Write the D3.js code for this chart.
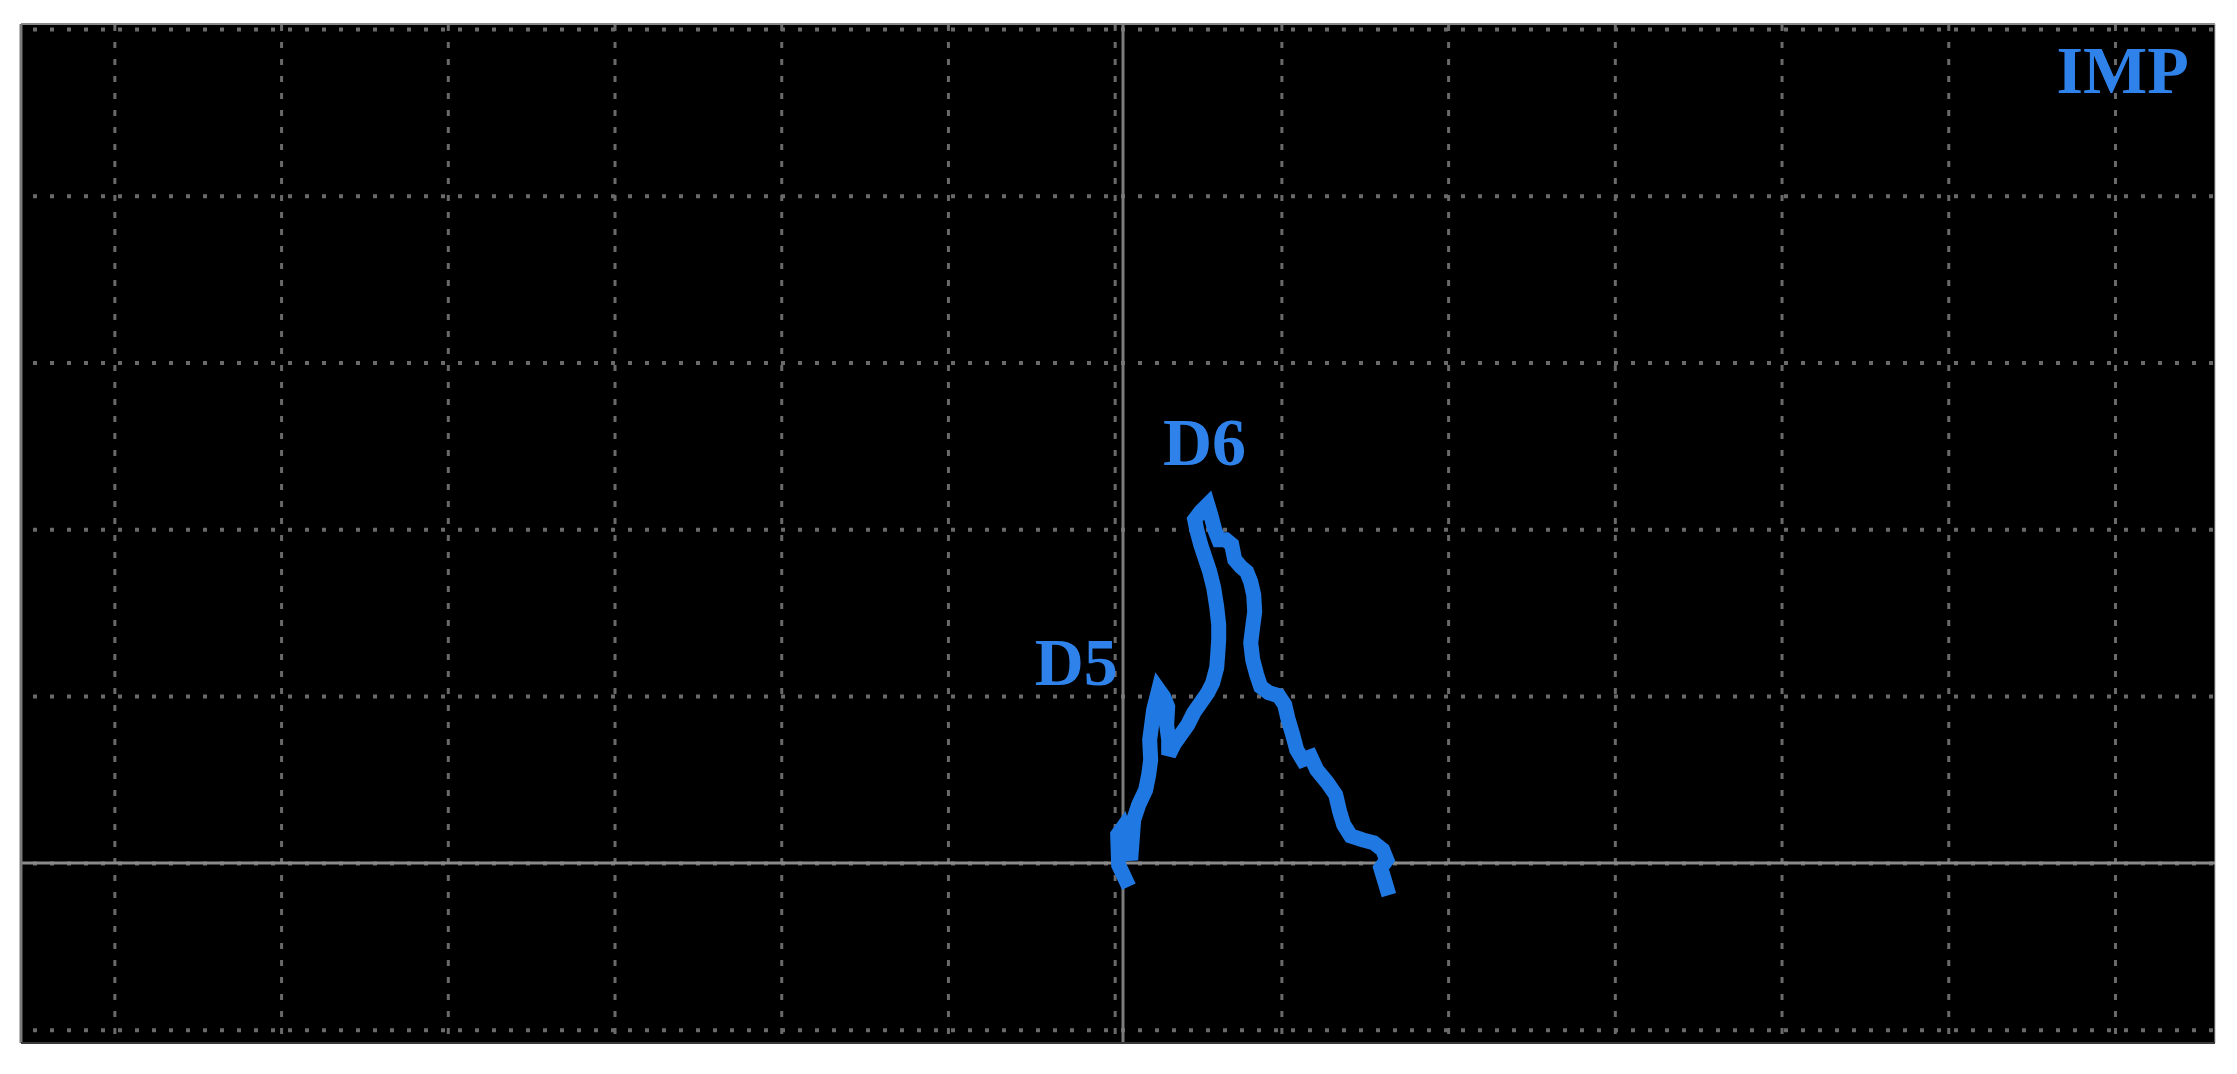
<!DOCTYPE html>
<html>
<head>
<meta charset="utf-8">
<script src="https://cdn.jsdelivr.net/npm/d3@7/dist/d3.min.js"></script>
<style>
  html, body { margin: 0; padding: 0; background: #fff; }
  #chart { width: 2237px; height: 1074px; }
</style>
</head>
<body>
<div id="chart"></div>
<script>
// grid divisions of the screen
const xGrid = [-6, -5, -4, -3, -2, -1, 0, 1, 2, 3, 4, 5, 6];
const yGrid = [-1, 0, 1, 2, 3, 4, 5];
const xDomain = [-6.56, 6.6];
const yDomain = [-1.08, 5.03];
// the solid vertical axis sits a little right of the centre grid line
const zeroX = 0.05;

// trace, in divisions
const traceX = [0.066, 0.024, 0.018, 0.048, 0.078, 0.096, 0.114, 0.144, 0.186, 0.204,
  0.216, 0.210, 0.222, 0.234, 0.252, 0.264, 0.294, 0.318, 0.312, 0.324,
  0.324, 0.354, 0.396, 0.438, 0.474, 0.516, 0.558, 0.588, 0.612, 0.618,
  0.624, 0.624, 0.612, 0.594, 0.570, 0.546, 0.516, 0.492, 0.480, 0.516,
  0.558, 0.576, 0.600, 0.624, 0.666, 0.702, 0.720, 0.756, 0.792, 0.816,
  0.834, 0.840, 0.828, 0.816, 0.828, 0.852, 0.876, 0.924, 0.984, 1.020,
  1.038, 1.068, 1.092, 1.128, 1.176, 1.212, 1.272, 1.326, 1.350, 1.374,
  1.416, 1.488, 1.554, 1.608, 1.632, 1.596, 1.614, 1.632];
const traceY = [-0.102, -0.012, 0.168, 0.210, 0.108, 0.018, 0.258, 0.348, 0.438, 0.528,
  0.618, 0.738, 0.828, 0.918, 0.990, 1.038, 0.996, 0.936, 0.828, 0.738,
  0.648, 0.708, 0.768, 0.828, 0.900, 0.960, 1.020, 1.080, 1.170, 1.248,
  1.338, 1.428, 1.536, 1.650, 1.746, 1.818, 1.908, 1.998, 2.058, 2.106,
  2.148, 2.088, 1.998, 1.938, 1.938, 1.908, 1.818, 1.776, 1.746, 1.686,
  1.608, 1.506, 1.416, 1.320, 1.218, 1.128, 1.056, 1.020, 1.002, 0.948,
  0.870, 0.768, 0.678, 0.618, 0.636, 0.558, 0.486, 0.408, 0.306, 0.228,
  0.162, 0.138, 0.120, 0.078, 0.018, -0.030, -0.090, -0.150];

// text labels
const labelText = ["D5", "D6", "IMP"];
const labelX = [-0.48, 0.29, 5.65];
const labelY = [1.068, 2.388, 4.619];

const margin = { top: 24, left: 21 };
const width = 2194;
const height = 1019;

const svg = d3.select("#chart")
  .append("svg")
  .attr("width", 2237)
  .attr("height", 1074)
  .style("display", "block")
  .style("background", "#fff");

const g = svg.append("g")
  .attr("transform", `translate(${margin.left}, ${margin.top})`);

g.append("rect")
  .attr("width", width)
  .attr("height", height)
  .attr("fill", "#000");

const x = d3.scaleLinear().domain(xDomain).range([0, width]);
const y = d3.scaleLinear().domain(yDomain).range([height, 0]);

// dotted grid
const gx = g.append("g")
  .attr("transform", `translate(0, ${height})`)
  .call(d3.axisBottom(x).tickValues(xGrid).tickSize(-height).tickFormat(""));
gx.select(".domain").remove();
gx.selectAll("line")
  .attr("stroke", "#6a6a6a")
  .attr("stroke-width", 3)
  .attr("stroke-dasharray", "6,11")
  .attr("stroke-dashoffset", 8);

const gy = g.append("g")
  .call(d3.axisLeft(y).tickValues(yGrid).tickSize(-width).tickFormat(""));
gy.select(".domain").remove();
gy.selectAll("line")
  .attr("stroke", "#6a6a6a")
  .attr("stroke-width", 4)
  .attr("stroke-dasharray", "4,13")
  .attr("stroke-dashoffset", -12);

// solid centre axes
g.append("line")
  .attr("x1", 0).attr("x2", width)
  .attr("y1", y(0)).attr("y2", y(0))
  .attr("stroke", "#8a8a8a")
  .attr("stroke-width", 3);

g.append("line")
  .attr("x1", x(zeroX)).attr("x2", x(zeroX))
  .attr("y1", 0).attr("y2", height)
  .attr("stroke", "#7c7c7c")
  .attr("stroke-width", 3);

// trace
const line = d3.line()
  .x(d => x(traceX[d]))
  .y(d => y(traceY[d]));

g.append("path")
  .datum(d3.range(traceX.length))
  .attr("d", line)
  .attr("fill", "none")
  .attr("stroke", "#2079e3")
  .attr("stroke-width", 15)
  .attr("stroke-linejoin", "miter")
  .attr("stroke-miterlimit", 3)
  .attr("stroke-linecap", "square");

// labels
g.selectAll(".label")
  .data(labelText)
  .enter()
  .append("text")
  .attr("class", "label")
  .attr("x", (d, i) => x(labelX[i]))
  .attr("y", (d, i) => y(labelY[i]))
  .style("font-family", "'Liberation Serif', 'Times New Roman', serif")
  .style("font-weight", "bold")
  .style("font-size", "68px")
  .style("fill", "#2f82ea")
  .text(d => d);

// frame
g.append("line")
  .attr("x1", 0).attr("x2", width)
  .attr("y1", 0).attr("y2", 0)
  .attr("stroke", "#8a8a8a")
  .attr("stroke-width", 2);
g.append("line")
  .attr("x1", 0).attr("x2", 0)
  .attr("y1", 0).attr("y2", height)
  .attr("stroke", "#7a7a7a")
  .attr("stroke-width", 3);
g.append("line")
  .attr("x1", width).attr("x2", width)
  .attr("y1", 0).attr("y2", height)
  .attr("stroke", "#b0b0b0")
  .attr("stroke-width", 1);
g.append("line")
  .attr("x1", 0).attr("x2", width)
  .attr("y1", height).attr("y2", height)
  .attr("stroke", "#3a3a3a")
  .attr("stroke-width", 2);
</script>
</body>
</html>
